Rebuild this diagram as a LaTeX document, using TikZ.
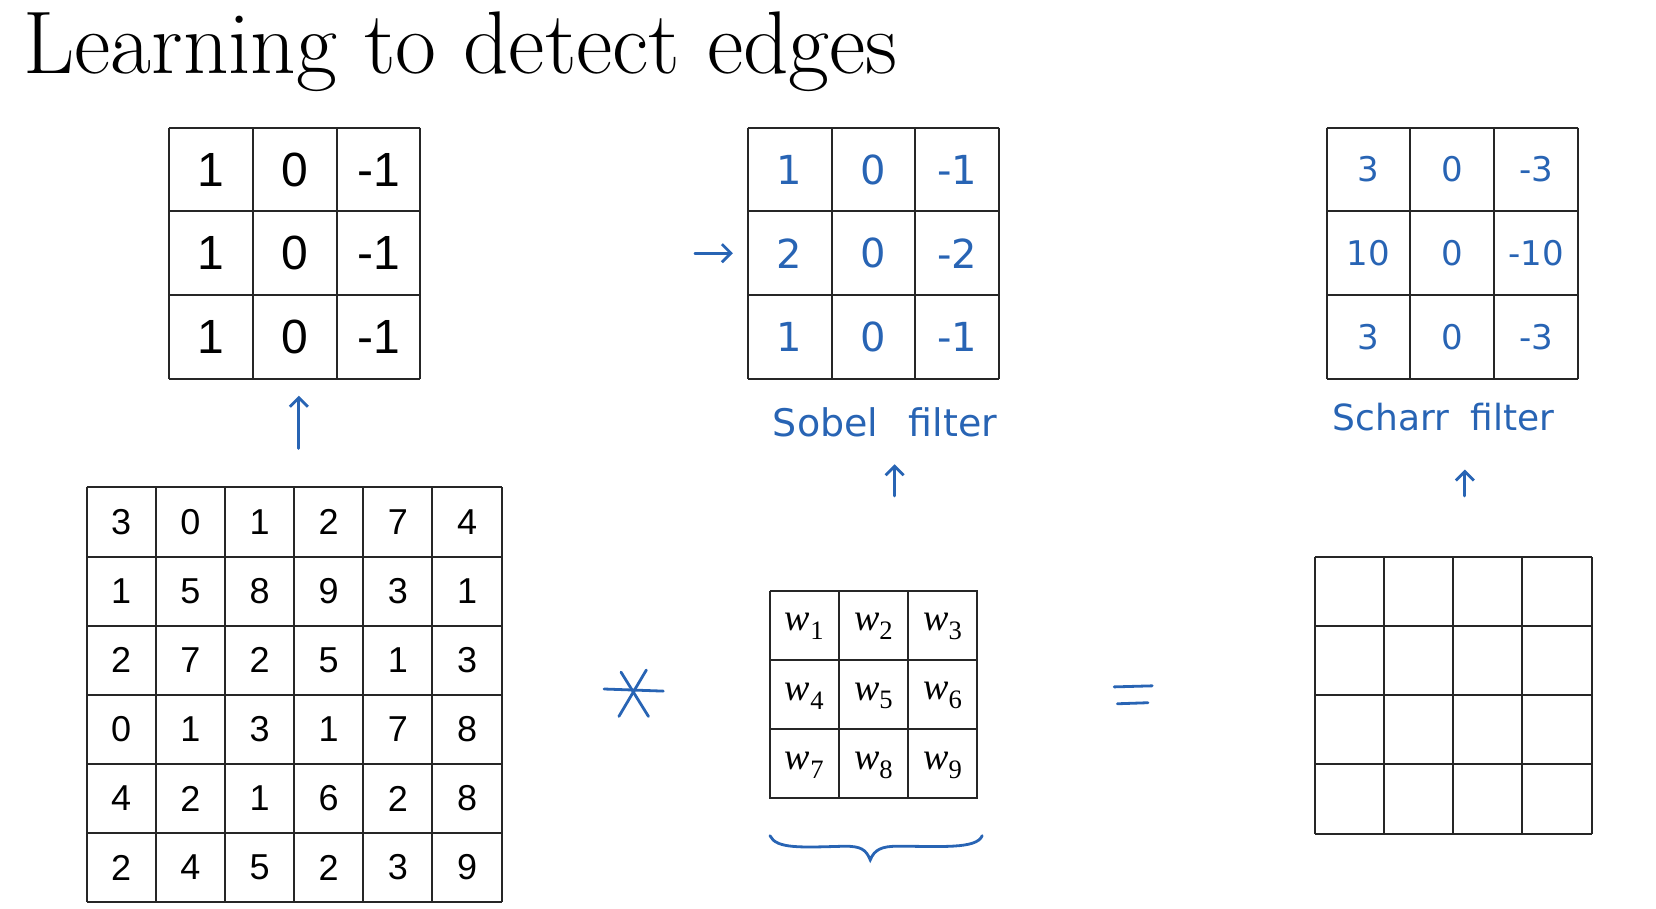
\documentclass[tikz,border=0pt]{standalone}
\usepackage{fontspec}
\newfontfamily\arialf{Liberation Sans}
\newfontfamily\handf{DejaVu Sans}
\newfontfamily\wf{Liberation Serif}
\usetikzlibrary{arrows.meta,calc}
\definecolor{pen}{RGB}{40,100,180}
\begin{document}
\begin{tikzpicture}[x=1.056pt,y=-1.055pt,
  grid/.style={draw=black!85,line width=2pt},
  num/.style={font=\arialf\fontsize{48}{48}\selectfont},
  snum/.style={font=\arialf\fontsize{36}{36}\selectfont},
  hnum/.style={font=\handf\fontsize{40}{40}\selectfont,text=pen},
  wnum/.style={font=\wf\itshape\fontsize{38}{38}\selectfont},
  pen/.style={draw=pen,line width=2.8pt,line cap=round},
  arr/.style={pen,-{Straight Barb[length=9pt,width=18pt]}}]
\useasboundingbox (0,0) rectangle (1568,861);
\node[anchor=base west,inner sep=0,font=\fontsize{89}{89}\selectfont] (title) at (22,70) {Learning to detect edges};
% vertical filter
\foreach \i in {0,...,3}{
  \draw[grid] ({160+79.33*\i},121) -- ({160+79.33*\i},359);
  \draw[grid] (160,{121+79.33*\i}) -- (398,{121+79.33*\i});}
\foreach \r in {0,1,2}{
  \node[num] (v\r a) at (199.7,{160.7+79.33*\r}) {1};
  \node[num] (v\r b) at (279,{160.7+79.33*\r}) {0};
  \node[num] (v\r c) at (358.3,{160.7+79.33*\r}) {-1};}
\coordinate (a1s) at (283,425);\coordinate (a1e) at (283,375);
\draw[arr] (a1s) -- (a1e);
% image
\foreach \i in {0,...,6}{
  \draw[grid] ({82+65.5*\i},462) -- ({82+65.5*\i},855);
  \draw[grid] (82,{462+65.5*\i}) -- (475,{462+65.5*\i});}
\foreach \row [count=\r from 0] in {{3,0,1,2,7,4},{1,5,8,9,3,1},{2,7,2,5,1,3},{0,1,3,1,7,8},{4,2,1,6,2,8},{2,4,5,2,3,9}}{
  \foreach \v [count=\c from 0] in \row
    \node[snum] (im\r\c) at ({114.75+65.5*\c},{494.75+65.5*\r}) {\v};}
% star
\coordinate (star) at (600,657);
\draw[pen] ($(star)+(-28,-4)$) -- ($(star)+(28,-2)$);
\draw[pen] ($(star)+(-14,22)$) -- ($(star)+(12,-22)$);
\draw[pen] ($(star)+(-12,-20)$) -- ($(star)+(14,22)$);
% w filter
\foreach \i in {0,...,3}{
  \draw[grid] ({729+65.5*\i},560) -- ({729+65.5*\i},757);
  \draw[grid] (729,{560+65.5*\i}) -- (926,{560+65.5*\i});}
\foreach \k in {1,...,9}{
  \pgfmathtruncatemacro{\r}{(\k-1)/3}\pgfmathtruncatemacro{\c}{mod(\k-1,3)}
  \node[wnum] (w\k) at ({761.75+65.5*\c},{594+65.5*\r}) {w\textsubscript{\upshape\k}};}
\draw[pen] (729,792) .. controls (735,805) and (760,803) .. (800,802) .. controls (815,802) and (820,805) .. (824,815)
  .. controls (828,805) and (835,802) .. (850,802) .. controls (890,802) and (925,805) .. (930,792);
% equals
\draw[pen] (1055,651) -- (1091,650);
\draw[pen] (1058,667) -- (1087,666);
% output
\foreach \i in {0,...,4}{
  \draw[grid] ({1245+65.5*\i},528) -- ({1245+65.5*\i},790);
  \draw[grid] (1245,{528+65.5*\i}) -- (1507,{528+65.5*\i});}
% Sobel
\foreach \i in {0,...,3}{
  \draw[grid] ({708+79.33*\i},121) -- ({708+79.33*\i},359);
  \draw[grid] (708,{121+79.33*\i}) -- (946,{121+79.33*\i});}
\foreach \row [count=\r from 0] in {{1,0,-1},{2,0,-2},{1,0,-1}}{
  \foreach \v [count=\c from 0] in \row
    \node[hnum] (s\r\c) at ({747.7+79.33*\c},{160.7+79.33*\r}) {\v};}
\coordinate (sa) at (658,240);\coordinate (sb) at (694,240);
\draw[arr] (sa) -- (sb);
\node[font=\handf\fontsize{38}{38}\selectfont,text=pen] (sobel) at (838,400) {Sobel\hspace{0.8em}filter};
\coordinate (a2s) at (847,470);\coordinate (a2e) at (847,440);
\draw[arr] (a2s) -- (a2e);
% Scharr
\foreach \i in {0,...,3}{
  \draw[grid] ({1256+79.33*\i},121) -- ({1256+79.33*\i},359);
  \draw[grid] (1256,{121+79.33*\i}) -- (1494,{121+79.33*\i});}
\foreach \row [count=\r from 0] in {{3,0,-3},{10,0,-10},{3,0,-3}}{
  \foreach \v [count=\c from 0] in \row
    \node[hnum,font=\handf\fontsize{34}{34}\selectfont] (c\r\c) at ({1295.7+79.33*\c},{160.7+79.33*\r}) {\v};}
\node[font=\handf\fontsize{36}{36}\selectfont,text=pen] (scharr) at (1367,395) {Scharr\hspace{0.6em}filter};
\coordinate (a3s) at (1387,470);\coordinate (a3e) at (1387,445);
\draw[arr] (a3s) -- (a3e);
\end{tikzpicture}
\end{document}
